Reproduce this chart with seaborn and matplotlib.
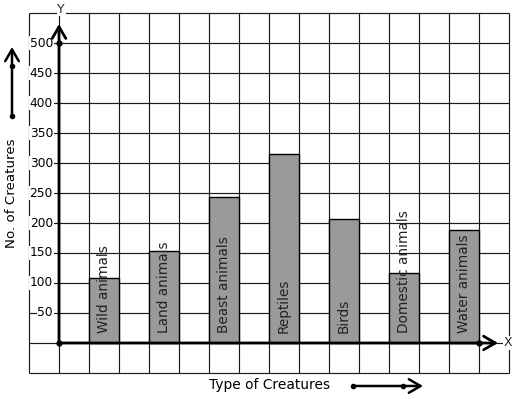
import numpy as np
import matplotlib
matplotlib.use("Agg")
import matplotlib.pyplot as plt
import seaborn as sns

# ---------- data ----------
creatures = ['Wild animals', 'Land animals', 'Beast animals', 'Reptiles',
             'Birds', 'Domestic animals', 'Water animals']
counts = [108, 153, 243, 315, 206, 117, 188]
y_ticks = [50, 100, 150, 200, 250, 300, 350, 400, 450, 500]

sns.set_theme(style='white')
plt.rcParams['font.family'] = ['DejaVu Sans']

# one grid column = 1 unit on x, one grid row = 50 on y
px_x, px_y = 30.0, 0.6          # pixels per unit
ox, oy = 59, 343                # origin in pixels
W, H = 517, 399

fig = plt.figure(figsize=(W / 100, H / 100), dpi=100)
ax = fig.add_axes([0, 0, 1, 1])

# grid
gx = np.arange(-1, 16)
gy = np.arange(-50, 551, 50)
ax.vlines(gx, -50, 550, color='#1a1a1a', lw=0.85, zorder=1)
ax.hlines(gy, -1, 15, color='#1a1a1a', lw=0.85, zorder=1)

# bars: each bar one column wide, one empty column between
xpos = 1.5 + 2 * np.arange(len(creatures))
sns.barplot(x=xpos, y=counts, native_scale=True, orient='x', width=0.5,
            color='#9a9a9a', saturation=1, edgecolor='black', linewidth=1.0,
            ax=ax, zorder=2)

for x, name in zip(xpos, creatures):
    ax.text(x, 17, name, rotation=90, ha='center', va='bottom',
            fontsize=9.8, color='#222222', zorder=4)

arrow = dict(arrowstyle='->,head_length=0.6,head_width=0.35',
             color='black', shrinkA=0, shrinkB=0, mutation_scale=14)

# axes with arrows
ax.annotate('', xy=(0, (oy - 24) / px_y), xytext=(0, 0),
            arrowprops=dict(arrow, lw=2), zorder=5)
ax.annotate('', xy=((498 - ox) / px_x, 0), xytext=(0, 0),
            arrowprops=dict(arrow, lw=2), zorder=5)
ax.plot([0, 0, 14], [0, 500, 0], 'o', color='black', ms=3.5, zorder=6)

# tick labels
for v in y_ticks:
    ax.text(-0.2, v, str(v), ha='right', va='center', fontsize=8.8,
            color='black', zorder=4,
            bbox=dict(facecolor='white', edgecolor='none', pad=0.6))

ax.text(0.07, (oy - 9) / px_y, 'Y', ha='center', va='center', fontsize=9,
        zorder=4, bbox=dict(facecolor='white', edgecolor='none', pad=0.5))
ax.text((508 - ox) / px_x, 0, 'X', ha='center', va='center', fontsize=9,
        zorder=4, bbox=dict(facecolor='white', edgecolor='none', pad=0.5))

# axis titles
ax.text((270 - ox) / px_x, (oy - 385) / px_y, 'Type of Creatures',
        ha='center', va='center', fontsize=9.9, color='black')
ax.text((12 - ox) / px_x, (oy - 193) / px_y, 'No. of Creatures',
        rotation=90, ha='center', va='center', fontsize=9.6, color='black')

# decorative arrows next to the titles
lx = (12 - ox) / px_x
ax.annotate('', xy=(lx, (oy - 47) / px_y), xytext=(lx, (oy - 116) / px_y),
            arrowprops=dict(arrow, lw=1.8))
ax.plot([lx, lx], [(oy - 116) / px_y, (oy - 66) / px_y], 'o', color='black', ms=3)
by = (oy - 386) / px_y
ax.annotate('', xy=((423 - ox) / px_x, by), xytext=((353 - ox) / px_x, by),
            arrowprops=dict(arrow, lw=1.8))
ax.plot([(353 - ox) / px_x, (403 - ox) / px_x], [by, by], 'o', color='black', ms=3)

ax.set_xlim(-ox / px_x, (W - ox) / px_x)
ax.set_ylim((oy - H) / px_y, oy / px_y)
ax.axis('off')

fig.savefig('out.png', dpi=100, facecolor='white')
